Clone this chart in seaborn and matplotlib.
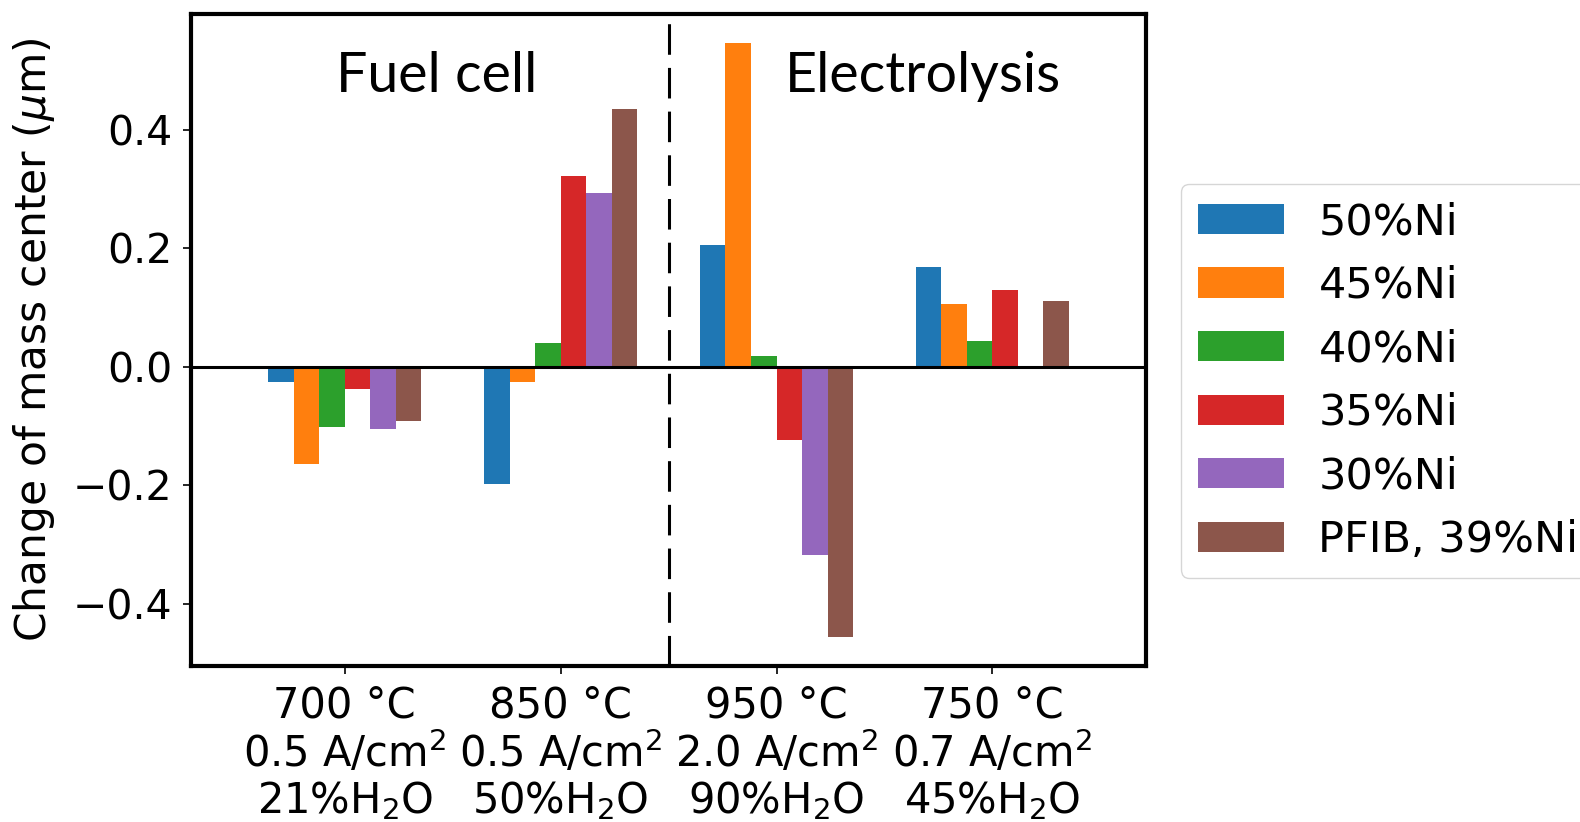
import matplotlib
matplotlib.use("Agg")
import matplotlib.pyplot as plt
import seaborn as sns
import numpy as np
import pandas as pd

conditions = ["700 °C\n0.5 A/cm$^2$\n21%H$_2$O",
              "850 °C\n0.5 A/cm$^2$\n50%H$_2$O",
              "950 °C\n2.0 A/cm$^2$\n90%H$_2$O",
              "750 °C\n0.7 A/cm$^2$\n45%H$_2$O"]
series = ["50%Ni", "45%Ni", "40%Ni", "35%Ni", "30%Ni", "PFIB, 39%Ni"]

ni50 = [-0.025, -0.197, 0.206, 0.168]
ni45 = [-0.164, -0.025, 0.547, 0.106]
ni40 = [-0.101, 0.041, 0.019, 0.044]
ni35 = [-0.038, 0.322, -0.123, 0.130]
ni30 = [-0.104, 0.294, -0.318, np.nan]
pfib = [-0.091, 0.435, -0.456, 0.111]

values = [ni50, ni45, ni40, ni35, ni30, pfib]
rows = []
for s, vals in zip(series, values):
    for c, v in zip(conditions, vals):
        rows.append({"condition": c, "series": s, "value": v})
df = pd.DataFrame(rows)

plt.rcParams['font.family'] = ['DejaVu Sans']
plt.rcParams['mathtext.fontset'] = 'dejavusans'

fig = plt.figure(figsize=(15.8, 8.22), dpi=100)
ax = fig.add_axes([0.1212, 0.1898, 0.6039, 0.7932])

palette = sns.color_palette("tab10", 6)
sns.barplot(data=df, x="condition", y="value", hue="series",
            order=conditions, hue_order=series, palette=palette,
            saturation=1, width=0.71, linewidth=0, errorbar=None, ax=ax)

ax.axhline(0, color="black", linewidth=2.2, zorder=5)
ax.axvline(1.5, color="black", linewidth=2.2, linestyle=(0, (10, 4.3)), zorder=5)

ax.set_xlim(-0.71, 3.71)
ax.set_ylim(-0.505, 0.596)
ax.set_yticks([-0.4, -0.2, 0.0, 0.2, 0.4])
ax.set_xlabel("")
ax.set_ylabel("Change of mass center ($\\mu$m)", fontsize=30.5, labelpad=11)

for sp in ax.spines.values():
    sp.set_linewidth(3)
ax.tick_params(axis="y", labelsize=29.5, length=6, width=1.2, pad=8)
ax.tick_params(axis="x", labelsize=30, length=6, width=1.2, pad=7)
for lab in ax.get_xticklabels():
    lab.set_linespacing(1.1)

ax.text(0.425, 0.49, "Fuel cell", fontsize=40, ha="center", va="center",
        family=["Lato", "DejaVu Sans"])
ax.text(2.68, 0.49, "Electrolysis", fontsize=40, ha="center", va="center",
        family=["Lato", "DejaVu Sans"])

ax.legend(loc="upper left", bbox_to_anchor=(0.7336, 0.8025),
          bbox_transform=fig.transFigure, fontsize=31, frameon=True,
          labelspacing=0.5, handlelength=2.0, handletextpad=0.8, borderpad=0.4)

fig.savefig("out.png", dpi=100)
